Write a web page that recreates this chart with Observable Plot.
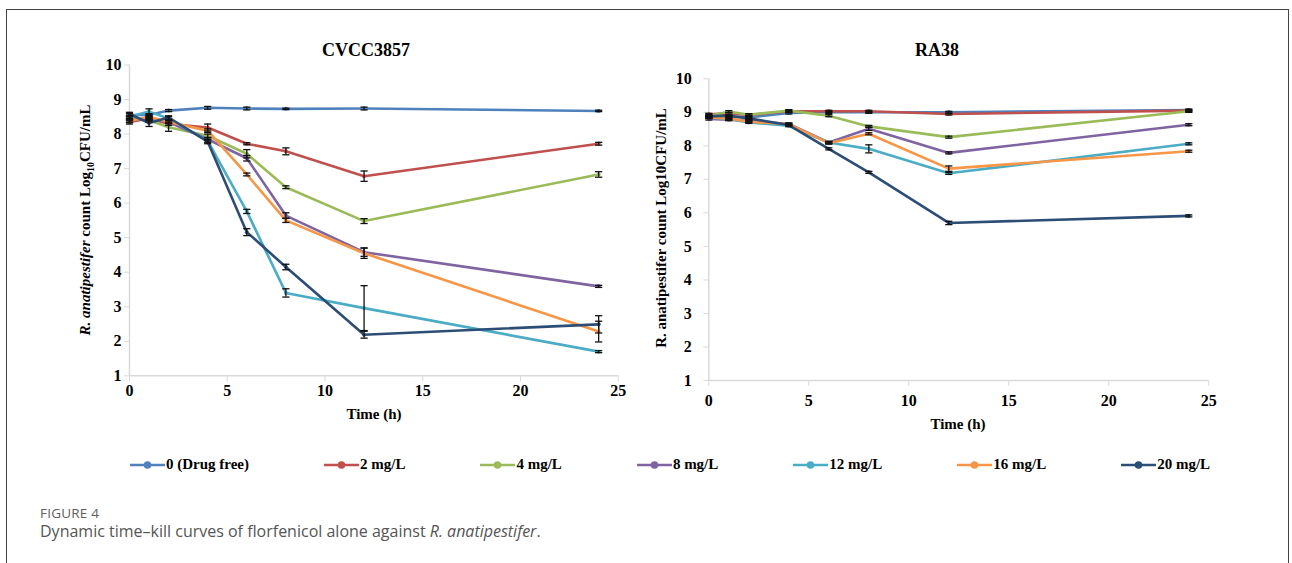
<!DOCTYPE html>
<html><head><meta charset="utf-8">
<script src="https://cdn.jsdelivr.net/npm/d3@7"></script>
<script src="https://cdn.jsdelivr.net/npm/@observablehq/plot@0.6"></script>
<style>
body{margin:0;background:#fff;}
#wrap{position:relative;width:1292px;height:563px;overflow:hidden;background:#fff;}
#frame{position:absolute;left:6px;top:9px;width:1283px;height:620px;border:1.5px solid #444;border-bottom:none;box-sizing:border-box;}
.abs{position:absolute;}
.serif{font-family:"Liberation Serif","Times New Roman",serif;font-weight:bold;color:#000;white-space:nowrap;}
.title{font-size:18px;transform:translate(-50%,-50%);}
.xlab{font-size:15px;transform:translate(-50%,-50%);}
.ylab{font-size:15px;transform:translate(-50%,-50%) rotate(-90deg);}
#legend{position:absolute;left:130px;top:456px;display:flex;gap:75px;align-items:center;}
.item{display:flex;align-items:center;font-size:15px;}
.item svg{display:block;}
#fig{position:absolute;left:40px;top:506px;font-family:"Open Sans",sans-serif;font-size:13.5px;line-height:15px;color:#606060;letter-spacing:0.2px;}
#cap{position:absolute;left:40px;top:521px;font-family:"Open Sans",sans-serif;font-size:16px;line-height:20px;color:#555;white-space:nowrap;}
</style>
</head><body>
<div id="wrap">
  <div id="frame"></div>
  <div id="left" class="abs" style="left:0;top:0"></div>
  <div id="right" class="abs" style="left:640px;top:0"></div>
  <div class="abs serif title" style="left:366px;top:50px">CVCC3857</div>
  <div class="abs serif title" style="left:937px;top:50px">RA38</div>
  <div class="abs serif xlab" style="left:374px;top:414px">Time (h)</div>
  <div class="abs serif xlab" style="left:958px;top:424px">Time (h)</div>
  <div class="abs serif ylab" style="left:86px;top:220px"><i>R. anatipestifer</i> count Log<sub style="font-size:10px">10</sub>CFU/mL</div>
  <div class="abs serif ylab" style="left:661px;top:228px">R. anatipestifer count Log10CFU/mL</div>
  <div id="legend" class="serif"></div>
  <div id="fig">FIGURE 4</div>
  <div id="cap">Dynamic time–kill curves of florfenicol alone against <i>R. anatipestifer</i>.</div>
</div>
<script>
const times = [0, 1, 2, 4, 6, 8, 12, 24];
const xTicks = [0, 5, 10, 15, 20, 25];
const yTicks = [1, 2, 3, 4, 5, 6, 7, 8, 9, 10];
const seriesNames = ["0 (Drug free)", "2 mg/L", "4 mg/L", "8 mg/L", "12 mg/L", "16 mg/L", "20 mg/L"];
const seriesColors = ["#4F81BD", "#C0504D", "#9BBB59", "#8064A2", "#4BACC6", "#F79646", "#2C4D75"];

// CVCC3857 mean log10 CFU/mL (rows follow seriesNames, columns follow times)
const cvccMean = [
  [8.55, 8.55, 8.68, 8.76, 8.74, 8.73, 8.74, 8.67],
  [8.35, 8.45, 8.30, 8.19, 7.72, 7.50, 6.78, 7.72],
  [8.45, 8.40, 8.20, 7.95, 7.43, 6.46, 5.48, 6.83],
  [8.40, 8.45, 8.35, 7.85, 7.30, 5.64, 4.58, 3.59],
  [8.50, 8.65, 8.45, 7.80, 5.76, 3.40, 2.96, 1.70],
  [8.38, 8.50, 8.35, 8.10, 6.83, 5.50, 4.55, 2.28],
  [8.58, 8.32, 8.48, 7.78, 5.16, 4.15, 2.19, 2.49]
];
const cvccSD = [
  [0.05, 0.04, 0.03, 0.04, 0.04, 0.02, 0.04, 0.02],
  [0.06, 0.05, 0.05, 0.10, 0.03, 0.10, 0.15, 0.04],
  [0.05, 0.05, 0.12, 0.05, 0.12, 0.04, 0.07, 0.08],
  [0.05, 0.04, 0.04, 0.05, 0.08, 0.08, 0.12, 0.03],
  [0.05, 0.08, 0.05, 0.05, 0.06, 0.12, 0.65, 0.03],
  [0.05, 0.04, 0.05, 0.05, 0.04, 0.06, 0.15, 0.30],
  [0.05, 0.10, 0.05, 0.06, 0.10, 0.08, 0.10, 0.25]
];
// RA38
const raMean = [
  [8.85, 8.88, 8.85, 8.98, 9.00, 9.00, 9.00, 9.07],
  [8.94, 8.97, 8.92, 9.03, 9.03, 9.03, 8.95, 9.05],
  [8.90, 9.02, 8.93, 9.05, 8.90, 8.58, 8.26, 9.03],
  [8.80, 8.78, 8.75, 8.65, 8.10, 8.51, 7.79, 8.63],
  [8.85, 8.80, 8.70, 8.60, 8.10, 7.91, 7.18, 8.06],
  [8.85, 8.82, 8.72, 8.65, 8.08, 8.36, 7.32, 7.84],
  [8.88, 8.90, 8.82, 8.62, 7.91, 7.21, 5.70, 5.91]
];
const raSD = [
  [0.03, 0.03, 0.03, 0.03, 0.03, 0.03, 0.03, 0.03],
  [0.03, 0.03, 0.03, 0.03, 0.03, 0.03, 0.03, 0.03],
  [0.03, 0.03, 0.03, 0.03, 0.03, 0.03, 0.03, 0.03],
  [0.03, 0.03, 0.03, 0.03, 0.03, 0.05, 0.03, 0.03],
  [0.03, 0.03, 0.03, 0.03, 0.03, 0.12, 0.03, 0.03],
  [0.03, 0.03, 0.03, 0.03, 0.03, 0.03, 0.08, 0.03],
  [0.03, 0.03, 0.03, 0.03, 0.03, 0.03, 0.05, 0.03]
];

const capSymbol = {draw(ctx, size) { const r = Math.sqrt(size / Math.PI); ctx.moveTo(-r, 0); ctx.lineTo(r, 0); }};

function rowsOf(means, sds) {
  const rows = [];
  means.forEach((arr, i) => arr.forEach((v, j) => rows.push({series: seriesNames[i], t: times[j], v, sd: sds[i][j]})));
  return rows;
}

function panel(means, sds, o) {
  const rows = rowsOf(means, sds);
  return Plot.plot({
    width: o.width, height: 430,
    marginLeft: o.ml, marginRight: o.mr, marginTop: o.mt, marginBottom: o.mb,
    x: {domain: [0, 25], axis: null},
    y: {domain: [1, 10], axis: null},
    color: {domain: seriesNames, range: seriesColors},
    style: {fontFamily: '"Liberation Serif", "Times New Roman", serif', background: "transparent", overflow: "visible"},
    marks: [
      Plot.ruleX([0], {stroke: "#d9d9d9", strokeWidth: 1.5}),
      Plot.ruleY([1], {stroke: "#d9d9d9", strokeWidth: 1.5}),
      Plot.axisX({ticks: xTicks, tickSize: 6, tickPadding: o.xpad, stroke: "#d9d9d9", fill: "#000", fontWeight: "bold", fontSize: 16, label: null}),
      Plot.axisY({ticks: yTicks, tickSize: 5, tickPadding: o.ypad, stroke: "#d9d9d9", fill: "#000", fontWeight: "bold", fontSize: 16, label: null}),
      Plot.line(rows, {x: "t", y: "v", z: "series", stroke: "series", strokeWidth: 2.6}),
      Plot.dot(rows, {x: "t", y: "v", fill: "series", r: 2}),
      Plot.ruleX(rows, {x: "t", y1: d => d.v - d.sd, y2: d => d.v + d.sd, stroke: "#111", strokeWidth: 1.3}),
      Plot.dot(rows, {x: "t", y: d => d.v + d.sd, symbol: capSymbol, r: 3.6, stroke: "#111", strokeWidth: 1.3, fill: "none"}),
      Plot.dot(rows, {x: "t", y: d => d.v - d.sd, symbol: capSymbol, r: 3.6, stroke: "#111", strokeWidth: 1.3, fill: "none"})
    ]
  });
}

document.getElementById("left").append(panel(cvccMean, cvccSD, {width: 640, ml: 129, mr: 22.3, mt: 64.5, mb: 54.7, xpad: 3, ypad: 3}));
document.getElementById("right").append(panel(raMean, raSD, {width: 652, ml: 68.3, mr: 83.7, mt: 78.3, mb: 50, xpad: 8, ypad: 12}));

const legend = document.getElementById("legend");
seriesNames.forEach((name, i) => {
  const item = document.createElement("div");
  item.className = "item";
  item.innerHTML = `<svg width="35" height="12"><line x1="0" y1="6" x2="35" y2="6" stroke="${seriesColors[i]}" stroke-width="2.5"/><circle cx="17.5" cy="6" r="3.8" fill="${seriesColors[i]}"/></svg><span style="margin-left:1px">${name}</span>`;
  legend.append(item);
});
</script>
</body></html>
